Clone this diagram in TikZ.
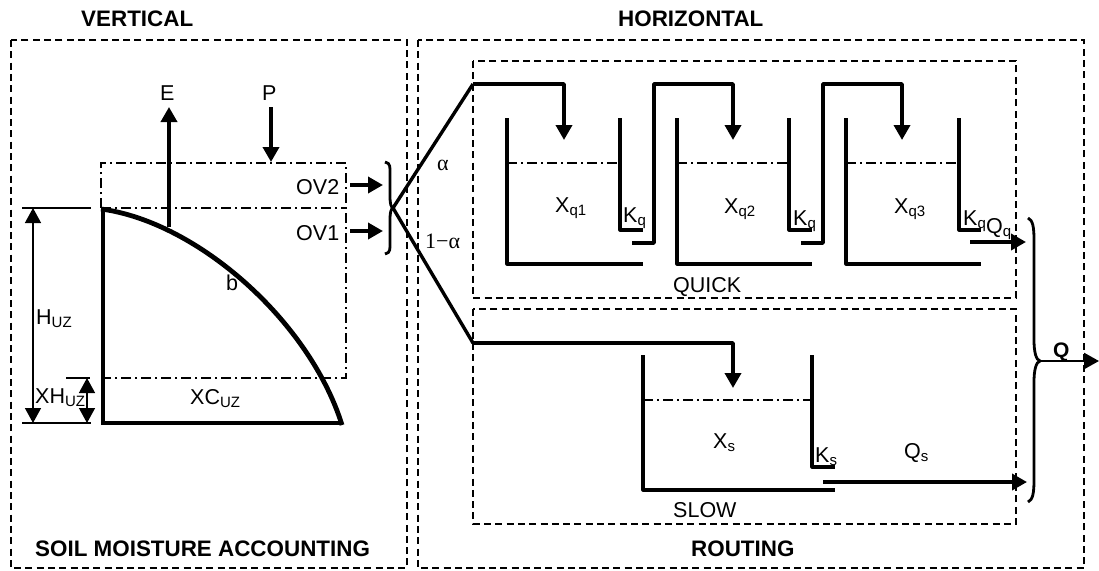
\documentclass[tikz,border=0pt]{standalone}
\usepackage{fontspec}
\setmainfont{Liberation Sans}
\newfontfamily\symfont{Liberation Serif}
\usetikzlibrary{arrows.meta}
\newcommand{\lsub}[1]{{\fontsize{15}{15}\selectfont\raisebox{-3.5pt}{#1}}}
\tikzset{
  x=1pt,y=-1pt,
  box/.style={draw=black,line width=1.8pt,dash pattern=on 7pt off 4.3pt},
  level/.style={draw=black,line width=1.3pt,dash pattern=on 10pt off 4pt on 2pt off 4pt},
  wall/.style={draw=black,line width=3.2pt,line join=round},
  flow/.style={draw=black,line width=3.6pt,line join=round,-{Triangle[length=15pt,width=16pt]}},
  dim/.style={draw=black,line width=1.4pt,{Triangle[length=15pt,width=16pt]}-{Triangle[length=15pt,width=16pt]}},
  lab/.style={inner sep=0pt,font=\fontsize{21.5}{21.5}\selectfont,anchor=base west},
  greek/.style={inner sep=0pt,font=\fontsize{22}{22}\selectfont\symfont,anchor=base west},
  head/.style={inner sep=0pt,font=\fontsize{22.4}{22.4}\selectfont\bfseries,anchor=base west},
}
\begin{document}
\begin{tikzpicture}
\useasboundingbox (0,0) rectangle (1099,570);
\fill[white] (0,0) rectangle (1099,570);
% frames
\draw[box] (11,40) rectangle (407,568);
\draw[box] (418,40) rectangle (1084,568);
\draw[box] (473,61) rectangle (1016,298);
\draw[box] (473,309) rectangle (1016,524);
% heads
\node[head] (hv) at (81,27) {VERTICAL};
\node[head] (hh) at (618,27) {HORIZONTAL};
\node[head] (hs) at (35,556) {SOIL MOISTURE ACCOUNTING};
\node[head] (hr) at (691,556) {ROUTING};
% soil store
\draw[level] (101,208) -- (101,163) -- (346,163) -- (346,378) -- (101,378);
\draw[level] (101,208) -- (346,208);
\draw[draw=black,line width=4.8pt] (101,209) .. controls (198,222) and (310,322) .. (342,425);
\draw[draw=black,line width=4.8pt,line join=miter] (103,207) -- (103,423) -- (340,423);
% dimension lines
\coordinate (dt) at (33,208);
\coordinate (db) at (33,423);
\coordinate (et) at (87,378);
\coordinate (eb) at (87,423);
\draw[draw=black,line width=1.4pt] (22,208) -- (91,208);
\draw[draw=black,line width=1.4pt] (22,423) -- (91,423);
\draw[draw=black,line width=1.4pt] (66,378) -- (90,378);
\draw[dim] (dt) -- (db);
\draw[dim] (et) -- (eb);
% fluxes
\coordinate (es) at (169,227);
\coordinate (ee) at (169,107);
\coordinate (ps) at (271,107);
\coordinate (pe) at (271,162);
\draw[flow] (es) -- (ee);
\draw[flow] (ps) -- (pe);
\draw[flow] (350,185) -- (383,185);
\draw[flow] (350,231) -- (383,231);
\node[lab] (E) at (160,100) {E};
\node[lab] (P) at (262,100) {P};
\node[lab] (ov2) at (296,194) {OV2};
\node[lab] (ov1) at (296,240) {OV1};
\node[lab] (b) at (226,290) {b};
\node[lab] (huz) at (36,324) {H\lsub{UZ}};
\node[lab] (xhuz) at (35,403) {XH\lsub{UZ}};
\node[lab] (xcuz) at (190,404) {XC\lsub{UZ}};
% brace left
\draw[draw=black,line width=2.8pt] (385,162) .. controls (391,163) and (390,168) .. (390,176) -- (390,196) .. controls (390,204) and (391,207) .. (393,208) .. controls (391,209) and (390,212) .. (390,220) -- (390,240) .. controls (390,248) and (391,253) .. (385,254);
\coordinate (split) at (393,208);
\coordinate (qin) at (473,84);
\coordinate (sin) at (473,343);
\draw[wall,line width=3.4pt] (split) -- (qin);
\draw[wall,line width=3.4pt] (split) -- (sin);
\node[greek] (al) at (437,170) {α};
\node[greek] (al2) at (425,248) {1−α};
% quick tanks
\draw[flow] (qin) -- (564,84) -- (564,140);
\draw[wall] (507,118) -- (507,264) -- (643,264);
\draw[wall] (620,118) -- (620,230) -- (643,230);
\draw[level] (507,163) -- (620,163);
\draw[flow] (632,243) -- (654,243) -- (654,84) -- (733,84) -- (733,140);
\draw[wall] (677,118) -- (677,264) -- (812,264);
\draw[wall] (789,118) -- (789,230) -- (812,230);
\draw[level] (677,163) -- (789,163);
\draw[flow] (801,243) -- (823,243) -- (823,84) -- (902,84) -- (902,140);
\draw[wall] (846,118) -- (846,264) -- (981,264);
\draw[wall] (959,118) -- (959,230) -- (981,230);
\draw[level] (846,163) -- (959,163);
\draw[flow] (970,242) -- (1026,242);
\node[lab] (x1) at (555,212) {X\lsub{q1}};
\node[lab] (x2) at (724,213) {X\lsub{q2}};
\node[lab] (x3) at (894,213) {X\lsub{q3}};
\node[lab] (k1) at (623,222) {K\lsub{q}};
\node[lab] (k2) at (793,225) {K\lsub{q}};
\node[lab] (k3) at (963,225) {K\lsub{q}};
\node[lab] (qq) at (986,233) {Q\lsub{q}};
\node[lab] (quick) at (673,292) {QUICK};
% slow tank
\draw[flow] (sin) -- (733,343) -- (733,388);
\draw[wall] (643,355) -- (643,490) -- (835,490);
\draw[wall] (812,355) -- (812,467) -- (835,467);
\draw[level] (643,400) -- (812,400);
\draw[flow] (823,482) -- (1027,482);
\node[lab] (xs) at (713,448) {X\lsub{s}};
\node[lab] (ks) at (815,462) {K\lsub{s}};
\node[lab] (qs) at (904,458) {Q\lsub{s}};
\node[lab] (slow) at (673,517) {SLOW};
% output brace
\draw[draw=black,line width=2.8pt] (1028,218) .. controls (1033,220) and (1034,228) .. (1034,240) -- (1034,340) .. controls (1034,352) and (1036,360) .. (1040,361) .. controls (1036,362) and (1034,370) .. (1034,382) -- (1034,480) .. controls (1034,492) and (1033,500) .. (1028,502);
\coordinate (out) at (1040,361);
\coordinate (outE) at (1099,361);
\draw[flow,line width=2.6pt] (out) -- (outE);
\node[head,font=\fontsize{21}{21}\selectfont\bfseries] (Q) at (1053,357) {Q};
\end{tikzpicture}
\end{document}
